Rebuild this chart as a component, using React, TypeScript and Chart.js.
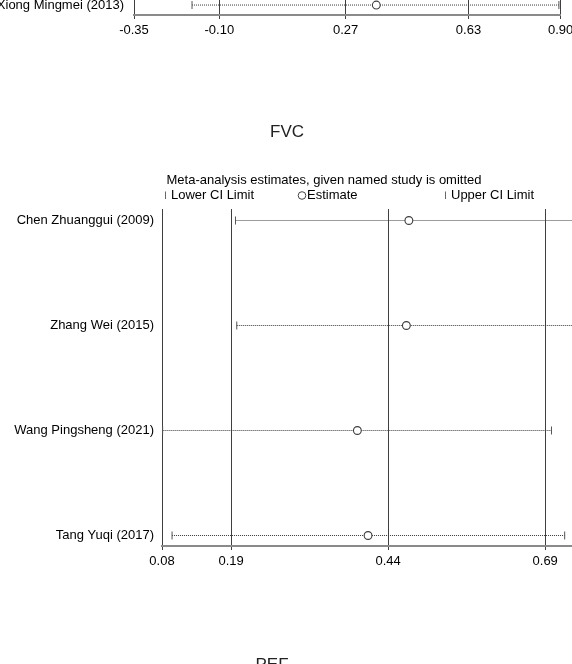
import React, { useEffect, useRef } from "react";
import { Chart, registerables } from "chart.js";

Chart.register(...registerables);

const FONT = '"Liberation Sans", Arial, Helvetica, sans-serif';

// ---- previous panel (only its last row and axis are visible at the top) ----
const prevStudies = ["Xiong Mingmei (2013)"];
const prevLower = [-0.18];
const prevEstimate = [0.36];
const prevUpper = [0.895];
const prevTicks = [-0.35, -0.1, 0.27, 0.63, 0.9];

// ---- FVC panel ----
const fvcStudies = [
  "Chen Zhuanggui (2009)",
  "Zhang Wei (2015)",
  "Wang Pingsheng (2021)",
  "Tang Yuqi (2017)",
];
const fvcLower = [0.197, 0.199, 0.081, 0.096];
const fvcEstimate = [0.473, 0.469, 0.391, 0.408];
const fvcUpper = [0.795, 0.785, 0.7, 0.721];
const fvcTicks = [0.08, 0.19, 0.44, 0.69, 0.8];

const fvcTitle = "FVC";
const nextTitle = "PEF";
const subtitleText = "Meta-analysis estimates, given named study is omitted";
const legendLabels = ["Lower CI Limit", "Estimate", "Upper CI Limit"];

function buildDatasets(lower: number[], est: number[], upper: number[], rowOffset: number) {
  const rows = lower.map((_, i) => i + rowOffset);
  const ds: any[] = [];
  ds.push({
    data: est.map((v, i) => ({ x: v, y: rows[i] })),
    pointStyle: "circle",
    pointRadius: 3.9,
    pointBorderColor: "#3c3c3c",
    pointBackgroundColor: "#ffffff",
    pointBorderWidth: 1.1,
    order: 0,
  });
  ds.push({
    data: [
      ...lower.map((v, i) => ({ x: v, y: rows[i] })),
      ...upper.map((v, i) => ({ x: v, y: rows[i] })),
    ],
    pointStyle: "line",
    pointRotation: 90,
    pointRadius: 4,
    pointBorderColor: "#555555",
    pointBorderWidth: 1,
    order: 1,
  });
  lower.forEach((lo, i) => {
    ds.push({
      data: [
        { x: lo, y: rows[i] },
        { x: upper[i], y: rows[i] },
      ],
      showLine: true,
      borderColor: "#3a3a3a",
      borderWidth: 1,
      borderDash: [1, 1],
      pointRadius: 0,
      order: 2,
    });
  });
  return ds;
}

function makeOptions(p: {
  xmin: number;
  xmax: number;
  xticks: number[];
  ymin: number;
  ymax: number;
  rows: number[];
  labels: string[];
  yWidth: number;
  yPad: number;
  xHeight: number;
  padding: any;
}) {
  return {
    responsive: false,
    devicePixelRatio: 1,
    animation: false as const,
    events: [] as any[],
    layout: { padding: p.padding },
    plugins: { legend: { display: false }, tooltip: { enabled: false }, title: { display: false } },
    scales: {
      x: {
        type: "linear" as const,
        bounds: "data" as const,
        min: p.xmin,
        max: p.xmax,
        afterBuildTicks: (s: any) => {
          s.ticks = p.xticks.map((v) => ({ value: v }));
        },
        afterFit: (s: any) => {
          s.height = p.xHeight;
          s.paddingLeft = 0;
          s.paddingRight = 0;
        },
        ticks: {
          callback: (v: any) => Number(v).toFixed(2),
          font: { size: 13, family: FONT },
          color: "#000000",
          padding: 4,
          maxRotation: 0,
          autoSkip: false,
        },
        grid: { color: "#3f3f3f", lineWidth: 1, drawTicks: true, tickLength: 4, tickColor: "#3f3f3f" },
        border: { display: true, color: "#8a8a8a", width: 2 },
      },
      y: {
        type: "linear" as const,
        bounds: "data" as const,
        reverse: true,
        min: p.ymin,
        max: p.ymax,
        afterBuildTicks: (s: any) => {
          s.ticks = p.rows.map((v) => ({ value: v }));
        },
        afterFit: (s: any) => {
          s.width = p.yWidth;
          s.paddingTop = 0;
          s.paddingBottom = 0;
        },
        ticks: {
          callback: (v: any) => p.labels[p.rows.indexOf(Math.round(Number(v)))] ?? "",
          font: { size: 13, family: FONT },
          color: "#000000",
          padding: p.yPad,
          autoSkip: false,
        },
        grid: { display: false, drawTicks: false },
        border: { display: false },
      },
    },
  };
}

const TOP_W = 660;
const TOP_H = 150;
const TOP_OFFSET = -85;
const FVC_W = 660;
const FVC_H = 580;
const FVC_OFFSET = 100;

export default function App() {
  const topRef = useRef<HTMLCanvasElement>(null);
  const fvcRef = useRef<HTMLCanvasElement>(null);

  useEffect(() => {
    const prevRows = prevStudies.map(() => 1);
    const topChart = new Chart(topRef.current as HTMLCanvasElement, {
      type: "scatter",
      data: { datasets: buildDatasets(prevLower, prevEstimate, prevUpper, 1) },
      options: makeOptions({
        xmin: prevTicks[0],
        xmax: prevTicks[prevTicks.length - 1],
        xticks: prevTicks,
        ymin: 0,
        ymax: 1.1173,
        rows: prevRows,
        labels: prevStudies,
        yWidth: 134,
        yPad: 10,
        xHeight: 50,
        padding: { top: 0, left: 0, bottom: 0, right: 99.4 },
      }) as any,
    });

    const fvcRows = fvcStudies.map((_, i) => i + 1);
    const textPlugin = {
      id: "panelText",
      afterDraw(chart: any) {
        const ctx = chart.ctx as CanvasRenderingContext2D;
        ctx.save();
        ctx.textBaseline = "alphabetic";
        // panel titles
        ctx.fillStyle = "#222222";
        ctx.font = `17px ${FONT}`;
        ctx.textAlign = "center";
        ctx.fillText(fvcTitle, 287, 137 - FVC_OFFSET);
        ctx.fillText(nextTitle, 272, 670 - FVC_OFFSET);
        // subtitle
        ctx.fillStyle = "#000000";
        ctx.font = `13px ${FONT}`;
        ctx.fillText(subtitleText, 324, 184 - FVC_OFFSET);
        // legend
        ctx.textAlign = "left";
        const ly = 199 - FVC_OFFSET;
        ctx.strokeStyle = "#666666";
        ctx.lineWidth = 1;
        ctx.beginPath();
        ctx.moveTo(165.5, 191.5 - FVC_OFFSET);
        ctx.lineTo(165.5, 199 - FVC_OFFSET);
        ctx.moveTo(445.5, 191.5 - FVC_OFFSET);
        ctx.lineTo(445.5, 199 - FVC_OFFSET);
        ctx.stroke();
        ctx.strokeStyle = "#444444";
        ctx.beginPath();
        ctx.arc(302, 195.5 - FVC_OFFSET, 3.8, 0, Math.PI * 2);
        ctx.stroke();
        ctx.fillText(legendLabels[0], 171, ly);
        ctx.fillText(legendLabels[1], 307, ly);
        ctx.fillText(legendLabels[2], 451, ly);
        ctx.restore();
      },
    };

    const fvcChart = new Chart(fvcRef.current as HTMLCanvasElement, {
      type: "scatter",
      data: { datasets: buildDatasets(fvcLower, fvcEstimate, fvcUpper, 1) },
      options: makeOptions({
        xmin: fvcTicks[0],
        xmax: fvcTicks[fvcTicks.length - 1],
        xticks: fvcTicks,
        ymin: 0.8905,
        ymax: 4.1,
        rows: fvcRows,
        labels: fvcStudies,
        yWidth: 162,
        yPad: 8,
        xHeight: FVC_H - (546 - FVC_OFFSET),
        padding: { top: 209 - FVC_OFFSET, left: 0, bottom: 0, right: 45.7 },
      }) as any,
      plugins: [textPlugin],
    });

    return () => {
      topChart.destroy();
      fvcChart.destroy();
    };
  }, []);

  return (
    <div
      style={{
        position: "fixed",
        left: 0,
        top: 0,
        width: 572,
        height: 664,
        overflow: "hidden",
        background: "#ffffff",
      }}
    >
      <div style={{ position: "absolute", left: 0, top: TOP_OFFSET, width: TOP_W, height: TOP_H }}>
        <canvas ref={topRef} width={TOP_W} height={TOP_H} style={{ display: "block" }} />
      </div>
      <div style={{ position: "absolute", left: 0, top: FVC_OFFSET, width: FVC_W, height: FVC_H }}>
        <canvas ref={fvcRef} width={FVC_W} height={FVC_H} style={{ display: "block" }} />
      </div>
    </div>
  );
}
